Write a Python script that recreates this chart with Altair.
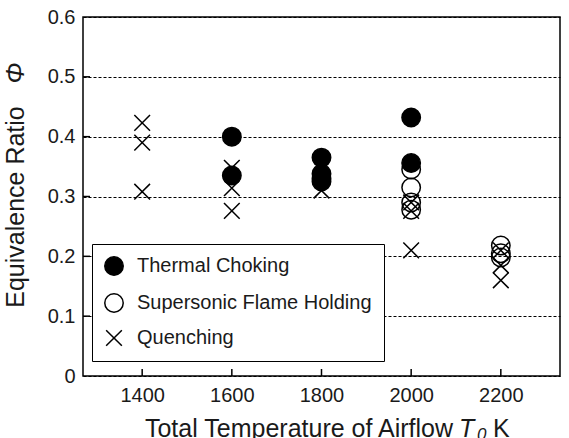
import altair as alt
import pandas as pd

# Measured equivalence ratios at each airflow total temperature
thermal_T = [1600, 1600, 1800, 1800, 1800, 1800, 2000, 2000]
thermal_phi = [0.400, 0.335, 0.365, 0.338, 0.330, 0.325, 0.432, 0.356]

flame_T = [2000, 2000, 2000, 2000, 2200, 2200, 2200]
flame_phi = [0.345, 0.315, 0.290, 0.278, 0.218, 0.205, 0.198]

quench_T = [1400, 1400, 1400, 1600, 1600, 1600, 1800, 2000, 2000, 2000, 2200, 2200, 2200]
quench_phi = [0.423, 0.390, 0.308, 0.348, 0.314, 0.276, 0.310, 0.290, 0.276, 0.210, 0.210, 0.185, 0.160]

regimes = ["Thermal Choking", "Supersonic Flame Holding", "Quenching"]
x_ticks = [1400, 1600, 1800, 2000, 2200]
y_ticks = [0, 0.1, 0.2, 0.3, 0.4, 0.5, 0.6]

# crosses first so the circles sit on top of them
rows = (
    [{"T": t, "phi": p, "regime": regimes[2]} for t, p in zip(quench_T, quench_phi)]
    + [{"T": t, "phi": p, "regime": regimes[1]} for t, p in zip(flame_T, flame_phi)]
    + [{"T": t, "phi": p, "regime": regimes[0]} for t, p in zip(thermal_T, thermal_phi)]
)
df = pd.DataFrame(rows)

W, H = 477, 359
FONT = "Liberation Sans"
INK = "#1a1a1a"
XPATH = "M-0.85,-0.85L0.85,0.85M-0.85,0.85L0.85,-0.85"

xs = alt.Scale(domain=[1268, 2332], nice=False, zero=False)
ys = alt.Scale(domain=[0, 0.6], nice=False)
leg = alt.Legend(title=None, orient="none", legendX=9, legendY=227)

points = alt.Chart(df).mark_point(opacity=1, size=340).encode(
    x=alt.X("T:Q", scale=xs, axis=alt.Axis(
        values=x_ticks, format="d", title=None, grid=False, ticks=False, domain=False,
        labelFontSize=20, labelPadding=9, labelColor=INK, labelFont=FONT)),
    y=alt.Y("phi:Q", scale=ys, axis=alt.Axis(
        values=y_ticks, title=None, grid=True, gridDash=[3, 2], gridColor="black",
        gridWidth=1.2, gridOpacity=1, ticks=False, domain=False,
        labelFontSize=20, labelPadding=8, labelColor=INK, labelFont=FONT,
        labelExpr="datum.value == 0 ? '0' : format(datum.value, '.1f')")),
    shape=alt.Shape("regime:N", scale=alt.Scale(domain=regimes, range=["circle", "circle", XPATH]),
                    legend=leg),
    fill=alt.Fill("regime:N", scale=alt.Scale(domain=regimes, range=["black", "transparent", "transparent"]),
                  legend=leg),
    stroke=alt.Stroke("regime:N", scale=alt.Scale(domain=regimes, range=["black", "black", "black"]),
                      legend=leg),
    strokeWidth=alt.StrokeWidth("regime:N", scale=alt.Scale(domain=regimes, range=[1.5, 1.5, 2.2]),
                                legend=leg),
)

# inward tick marks on the bottom and left axes
xt = alt.Chart(pd.DataFrame({"T": x_ticks})).mark_rule(color="black", strokeWidth=1.5).encode(
    x=alt.X("T:Q", scale=xs), y=alt.value(H), y2=alt.value(H - 7))
yt = alt.Chart(pd.DataFrame({"phi": y_ticks[1:-1]})).mark_rule(color="black", strokeWidth=1.5).encode(
    y=alt.Y("phi:Q", scale=ys), x=alt.value(0), x2=alt.value(7))

one = pd.DataFrame({"k": [0]})


def label(text, x, y, size=25, angle=0, italic=False, align="left"):
    return alt.Chart(one).mark_text(
        text=text, fontSize=size, font=FONT, color=INK, angle=angle, align=align,
        baseline="middle", fontStyle="italic" if italic else "normal",
    ).encode(x=alt.value(x), y=alt.value(y))


titles = [
    label("Total Temperature of Airflow", 370, 412, align="right"),
    label("T", 376, 412, italic=True),
    label("0", 394, 418, size=17, italic=True),
    label("K", 410, 412),
    label("Equivalence Ratio", -67, 190, angle=270, align="center"),
    label("Φ", -67, 56, angle=270, italic=True, align="center"),
]

chart = alt.layer(xt, yt, points, *titles).properties(
    width=W, height=H,
    padding={"left": 83, "top": 17, "right": 9, "bottom": 62},
    autosize=alt.AutoSizeParams(type="none"),
).configure_view(
    stroke="black", strokeWidth=1.5
).configure_legend(
    labelFont=FONT, labelFontSize=20, labelColor=INK, labelLimit=400,
    symbolSize=340, symbolOpacity=1,
    fillColor="white", strokeColor="black", padding=12, rowPadding=11,
    labelOffset=13,
)

chart.save("out.html", embed_options={"renderer": "svg", "actions": False})
